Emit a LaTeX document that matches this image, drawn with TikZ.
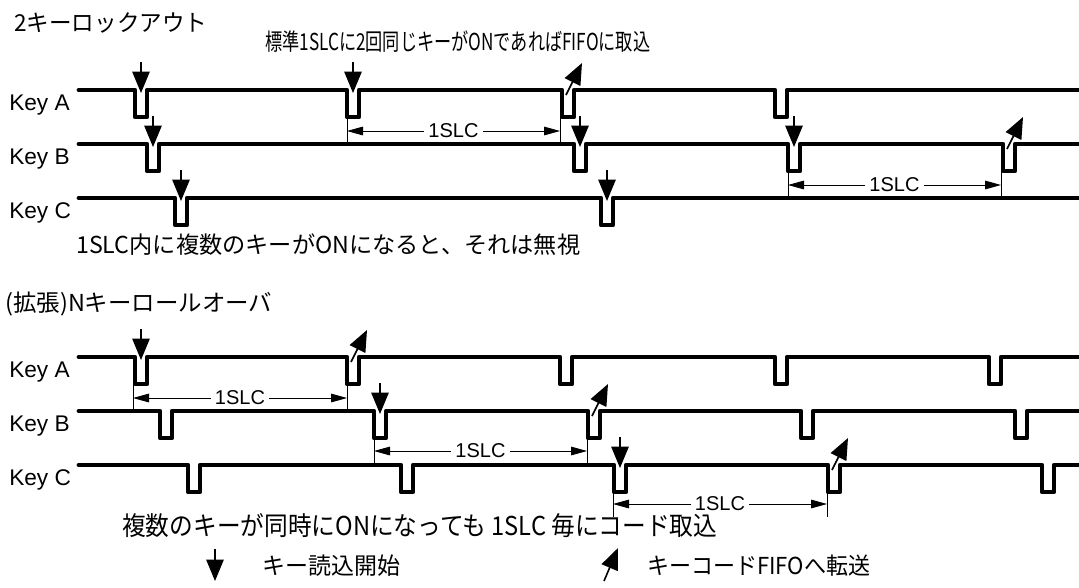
\documentclass[tikz,border=0pt]{standalone}
\usepackage{graphicx}
\usepackage{fontspec}
\setmainfont{Liberation Sans}
\newfontfamily\jp{Noto Sans CJK JP}
\usetikzlibrary{arrows.meta}

\begin{document}
\begin{tikzpicture}[x=0.75pt,y=-0.75pt]
\tikzstyle{wave}=[line width=3.6pt, line join=round, line cap=round]
\tikzstyle{thin}=[line width=0.6pt]
\tikzstyle{slc}=[thin, {Triangle[length=12pt,width=6.5pt]}-{Triangle[length=12pt,width=6.5pt]}]
\tikzstyle{readkey}=[line width=1.2pt, -{Triangle[length=16pt,width=13pt]}]
\tikzstyle{keyname}=[anchor=west, inner sep=0pt, font=\fontsize{17}{19}\selectfont]
\tikzstyle{slclabel}=[fill=white, inner sep=3pt, font=\fontsize{15}{17}\selectfont]
\tikzstyle{jtext}=[anchor=west, inner sep=0pt, font=\jp\fontsize{17.5}{20}\selectfont]
\useasboundingbox (0,0) rectangle (1079,587);

% 2 key lockout
\node[jtext] (title1) at (14,23) {\resizebox{144.75pt}{\height}{2キーロックアウト}};
\node[jtext] (rule1) at (265,42) {\resizebox{288.75pt}{\height}{標準1SLCに2回同じキーがONであればFIFOに取込}};

\node[keyname] (ka) at (9,105) {Key A};
\node[keyname] (kb) at (9,159) {Key B};
\node[keyname] (kc) at (9,213) {Key C};

\draw[wave] (79,90) \foreach \x [count=\i] in {135,347,562,775}
  { -- (\x,90) coordinate (ta\i) -- (\x,117) -- (\x+12,117) -- (\x+12,90) } -- (1079,90);
\draw[wave] (79,144) \foreach \x [count=\i] in {147,574,788,1003}
  { -- (\x,144) coordinate (tb\i) -- (\x,171) -- (\x+12,171) -- (\x+12,144) } -- (1079,144);
\draw[wave] (79,198) \foreach \x [count=\i] in {175,601}
  { -- (\x,198) coordinate (tc\i) -- (\x,225) -- (\x+12,225) -- (\x+12,198) } -- (1079,198);

% read start
\foreach \p in {ta1,ta2,tb1,tb2,tb3,tc1,tc2}
  \draw[readkey] ([shift={(6,-28)}]\p) -- ([shift={(6,3)}]\p);
% to FIFO
\foreach \p in {ta3,tb4}
  \draw[readkey] ([shift={(4,5)}]\p) -- ([shift={(20,-27)}]\p);

% 1SLC
\draw[thin] ([shift={(0,27)}]ta2) -- ([shift={(0,54)}]ta2);
\draw[thin] ([shift={(-2,27)}]ta3) -- ([shift={(-2,54)}]ta3);
\draw[slc] ([shift={(0,41)}]ta2) -- node[slclabel] (slc1) {1SLC} ([shift={(-2,41)}]ta3);
\draw[thin] ([shift={(0,27)}]tb3) -- ([shift={(0,54)}]tb3);
\draw[thin] ([shift={(-2,27)}]tb4) -- ([shift={(-2,54)}]tb4);
\draw[slc] ([shift={(0,41)}]tb3) -- node[slclabel] (slc2) {1SLC} ([shift={(-2,41)}]tb4);

\node[jtext] (note1) at (76,245) {\resizebox{378pt}{\height}{1SLC内に複数のキーがONになると、それは無視}};

% N key rollover
\node[jtext] (title2) at (5,304) {\resizebox{200.25pt}{\height}{(拡張)Nキーロールオーバ}};

\node[keyname] (na) at (9,372) {Key A};
\node[keyname] (nb) at (9,426) {Key B};
\node[keyname] (nc) at (9,480) {Key C};

\draw[wave] (79,357) \foreach \x [count=\i] in {135,347,560,775,989}
  { -- (\x,357) coordinate (ra\i) -- (\x,384) -- (\x+12,384) -- (\x+12,357) } -- (1079,357);
\draw[wave] (79,411) \foreach \x [count=\i] in {160,374,588,801,1015}
  { -- (\x,411) coordinate (rb\i) -- (\x,438) -- (\x+12,438) -- (\x+12,411) } -- (1079,411);
\draw[wave] (79,465) \foreach \x [count=\i] in {188,401,614,828,1042}
  { -- (\x,465) coordinate (rc\i) -- (\x,492) -- (\x+12,492) -- (\x+12,465) } -- (1079,465);

\foreach \p in {ra1,rb2,rc3}
  \draw[readkey] ([shift={(6,-28)}]\p) -- ([shift={(6,3)}]\p);
\foreach \p in {ra2,rb3,rc4}
  \draw[readkey] ([shift={(4,5)}]\p) -- ([shift={(20,-27)}]\p);

\draw[thin] ([shift={(-2,27)}]ra1) -- ([shift={(-2,54)}]ra1);
\draw[thin] ([shift={(0,27)}]ra2) -- ([shift={(0,54)}]ra2);
\draw[slc] ([shift={(-2,41)}]ra1) -- node[slclabel] (slc3) {1SLC} ([shift={(0,41)}]ra2);
\draw[thin] ([shift={(0,27)}]rb2) -- ([shift={(0,54)}]rb2);
\draw[thin] ([shift={(-1,27)}]rb3) -- ([shift={(-1,54)}]rb3);
\draw[slc] ([shift={(0,40)}]rb2) -- node[slclabel] (slc4) {1SLC} ([shift={(-1,40)}]rb3);
\draw[thin] ([shift={(-1,27)}]rc3) -- ([shift={(-1,52)}]rc3);
\draw[thin] ([shift={(-1,27)}]rc4) -- ([shift={(-1,52)}]rc4);
\draw[slc] ([shift={(-1,39)}]rc3) -- node[slclabel] (slc5) {1SLC} ([shift={(-1,39)}]rc4);

\node[jtext] (note2) at (122,526) {\resizebox{446.25pt}{\height}{\fontsize{19.5}{22}\selectfont 複数のキーが同時にONになっても 1SLC 毎にコード取込}};

% legend
\coordinate (ldown) at (215,581);
\coordinate (lup) at (604,581);
\draw[readkey] ([shift={(0,-32)}]ldown) -- (ldown);
\draw[readkey] (lup) -- ([shift={(14,-33)}]lup);
\node[jtext] (leg1) at (262,566) {\resizebox{103.5pt}{\height}{キー読込開始}};
\node[jtext] (leg2) at (647,566) {\resizebox{167.25pt}{\height}{キーコードFIFOへ転送}};
\end{tikzpicture}
\end{document}
